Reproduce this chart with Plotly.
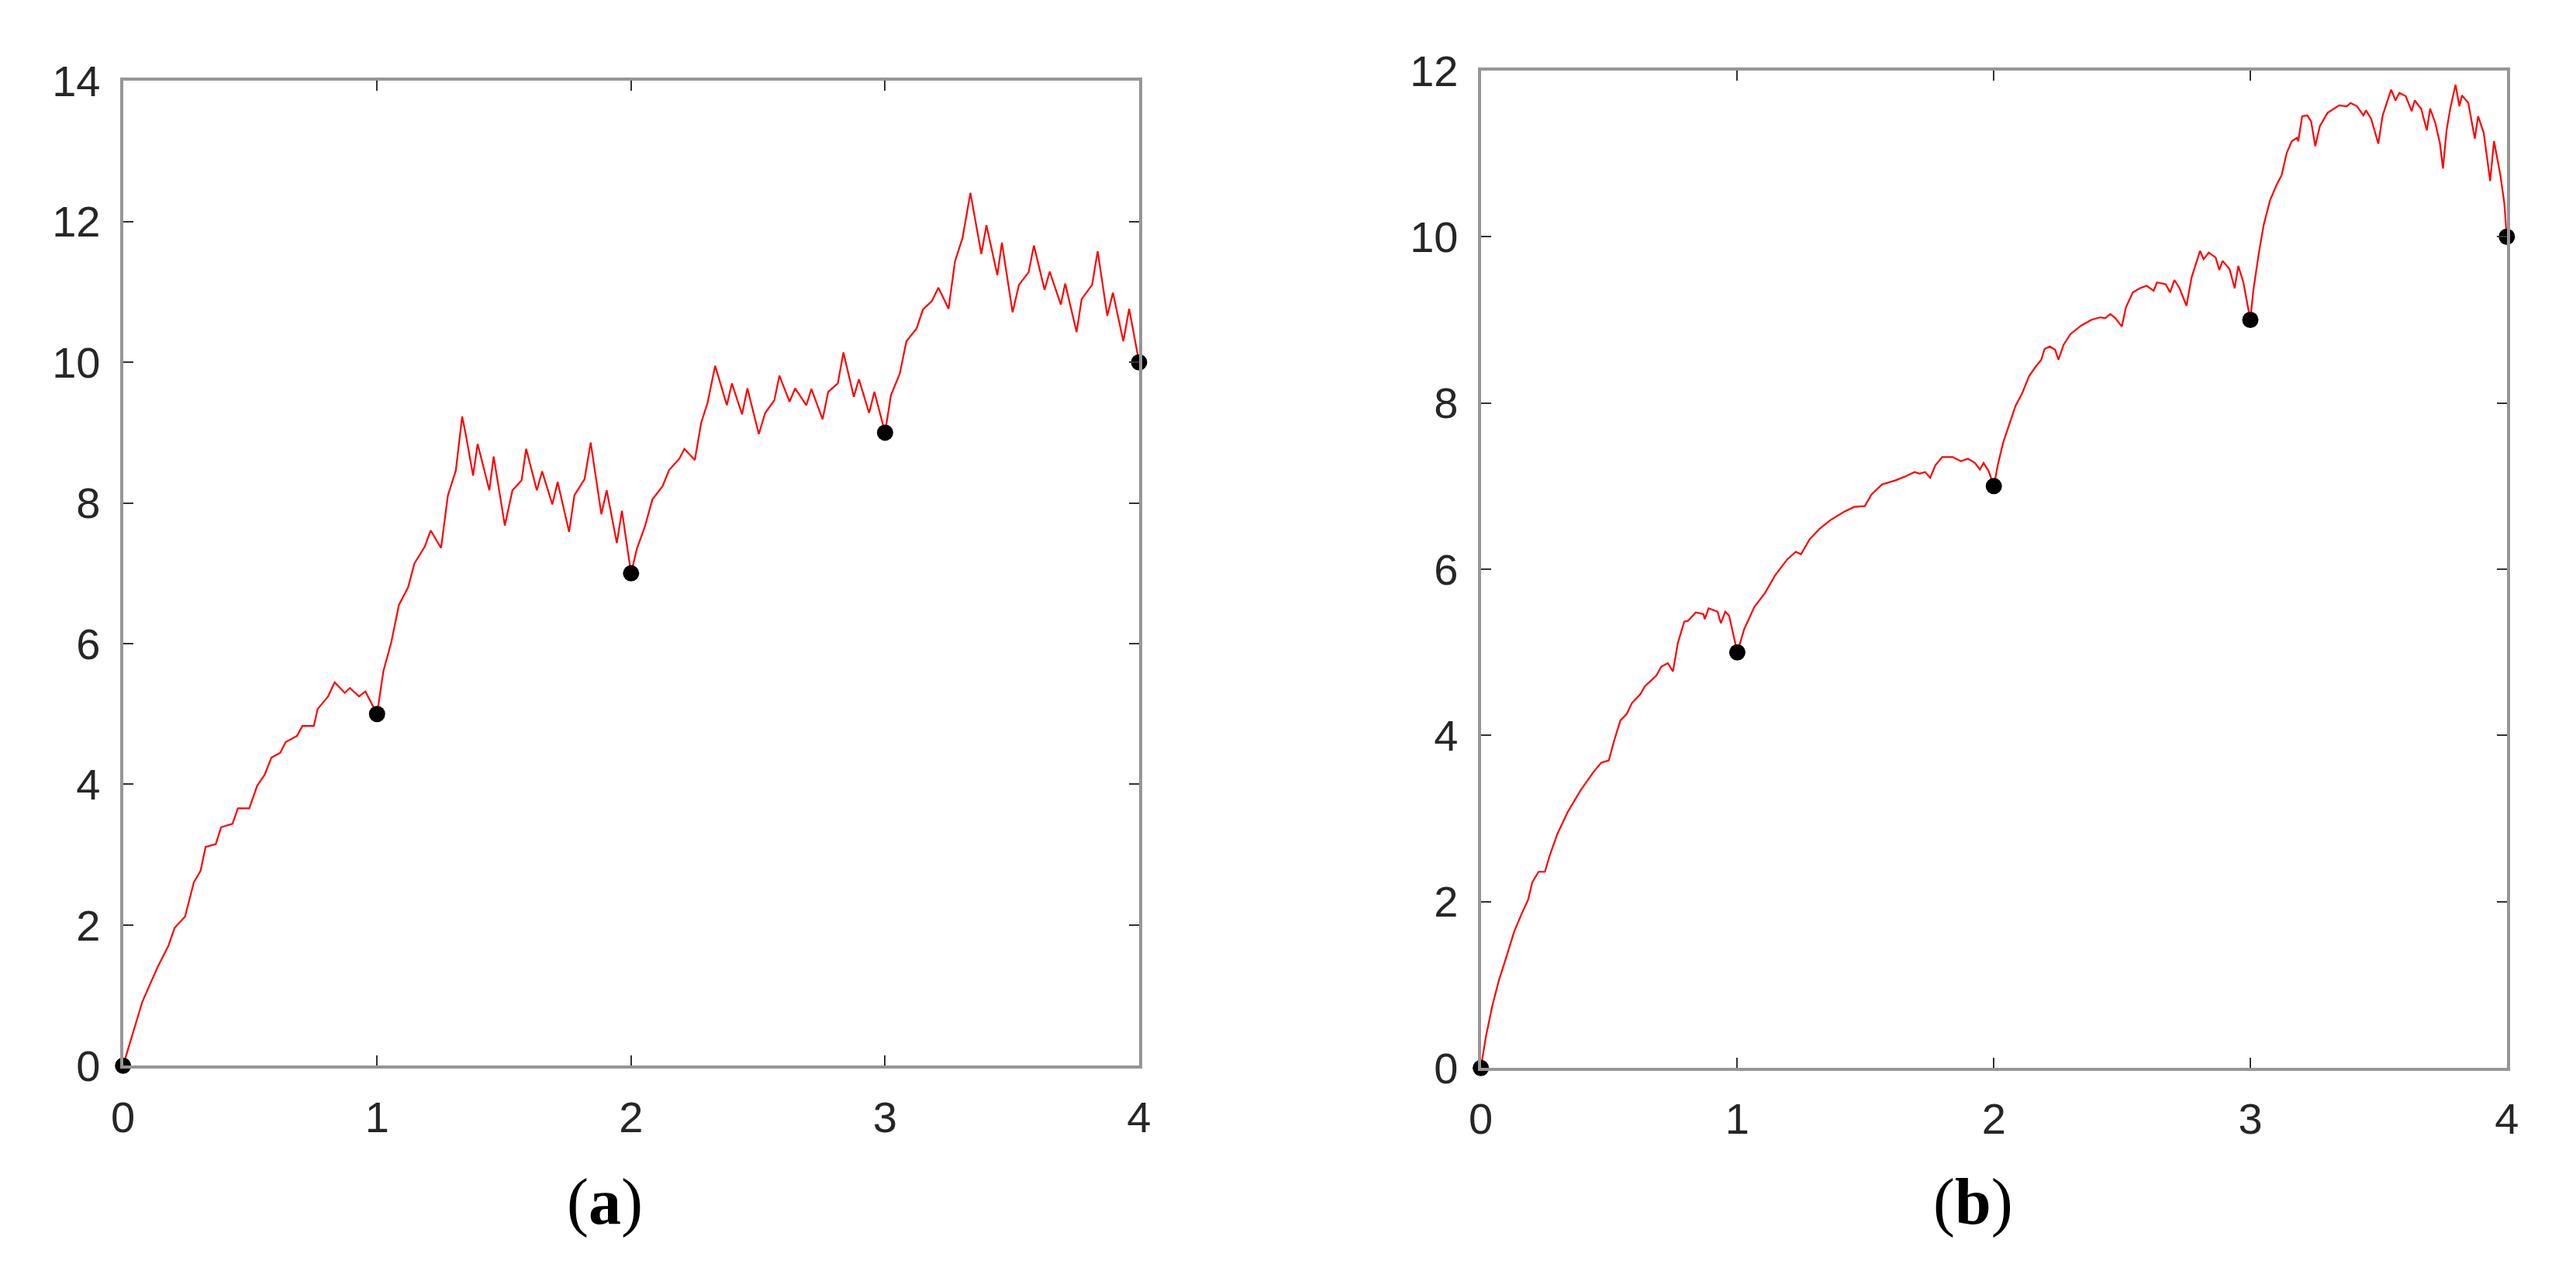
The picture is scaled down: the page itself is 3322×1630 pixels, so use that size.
"""Fractal interpolation curves through five nodes, two panels (a) and (b)."""

import plotly.graph_objects as go

# Interpolation nodes (black dots), shared by both panels
NODE_X = [0, 1, 2, 3, 4]
NODE_Y = [0, 5, 7, 9, 10]

# Panel (a): rough fractal curve
CURVE_A_X = [
    0, 0.076, 0.137, 0.178, 0.203, 0.244, 0.279, 0.305, 0.325, 0.365,
    0.386, 0.431, 0.452, 0.497, 0.528, 0.558, 0.584, 0.619, 0.640, 0.685,
    0.706, 0.751, 0.766, 0.807, 0.833, 0.873, 0.893, 0.929, 0.954, 1.0,
    1.025, 1.056, 1.086, 1.122, 1.147, 1.188, 1.211, 1.252, 1.279, 1.310,
    1.335, 1.350, 1.378, 1.396, 1.442, 1.459, 1.503, 1.533, 1.569, 1.587,
    1.629, 1.650, 1.690, 1.711, 1.756, 1.777, 1.817, 1.841, 1.883, 1.904,
    1.944, 1.964, 2.0,
    2.023, 2.054, 2.084, 2.124, 2.150, 2.190, 2.210, 2.251, 2.276, 2.301,
    2.331, 2.346, 2.377, 2.397, 2.437, 2.458, 2.503, 2.528, 2.564, 2.584,
    2.624, 2.646, 2.690, 2.710, 2.754, 2.776, 2.814, 2.836, 2.877, 2.897,
    2.937, 2.958, 3.0,
    3.023, 3.058, 3.084, 3.124, 3.149, 3.184, 3.210, 3.250, 3.275, 3.305,
    3.336, 3.351, 3.379, 3.399, 3.442, 3.460, 3.502, 3.527, 3.565, 3.586,
    3.628, 3.648, 3.692, 3.709, 3.754, 3.774, 3.815, 3.837, 3.875, 3.897,
    3.938, 3.961, 4.0,
]
CURVE_A_Y = [
    0, 0.91, 1.41, 1.70, 1.96, 2.12, 2.61, 2.77, 3.11, 3.15,
    3.39, 3.44, 3.66, 3.66, 3.98, 4.14, 4.38, 4.45, 4.60, 4.69,
    4.83, 4.83, 5.07, 5.25, 5.45, 5.30, 5.37, 5.25, 5.32, 5.0,
    5.61, 6.02, 6.55, 6.80, 7.14, 7.38, 7.61, 7.36, 8.11, 8.46,
    9.23, 8.96, 8.39, 8.84, 8.18, 8.66, 7.68, 8.18, 8.32, 8.77,
    8.18, 8.45, 7.98, 8.30, 7.59, 8.11, 8.34, 8.86, 7.84, 8.18,
    7.43, 7.89, 7.0,
    7.35, 7.66, 8.05, 8.24, 8.47, 8.63, 8.77, 8.61, 9.14, 9.42,
    9.95, 9.77, 9.39, 9.70, 9.26, 9.63, 8.98, 9.28, 9.46, 9.81,
    9.44, 9.63, 9.39, 9.62, 9.19, 9.58, 9.70, 10.14, 9.51, 9.76,
    9.28, 9.58, 9.0,
    9.53, 9.84, 10.30, 10.48, 10.75, 10.87, 11.06, 10.76, 11.43, 11.77,
    12.41, 12.11, 11.54, 11.95, 11.24, 11.70, 10.71, 11.10, 11.28, 11.66,
    11.03, 11.29, 10.82, 11.12, 10.43, 10.90, 11.10, 11.58, 10.66, 10.99,
    10.30, 10.76, 10.0,
]

# Panel (b): smoother fractal curve
CURVE_B_X = [
    0, 0.020, 0.045, 0.070, 0.100, 0.130, 0.160, 0.185, 0.200, 0.225,
    0.250, 0.269, 0.299, 0.339, 0.389, 0.439, 0.469, 0.499, 0.519, 0.544,
    0.569, 0.589, 0.623, 0.639, 0.684, 0.704, 0.729, 0.749, 0.768, 0.793,
    0.808, 0.838, 0.868, 0.873, 0.888, 0.923, 0.936, 0.953, 0.968, 1.0,
    1.027, 1.067, 1.107, 1.148, 1.195, 1.228, 1.248, 1.282, 1.322, 1.362,
    1.416, 1.456, 1.497, 1.523, 1.564, 1.617, 1.658, 1.691, 1.711, 1.732,
    1.752, 1.772, 1.799, 1.839, 1.872, 1.899, 1.926, 1.946, 1.960, 1.980,
    2.0,
    2.016, 2.036, 2.057, 2.084, 2.111, 2.137, 2.164, 2.185, 2.198, 2.218,
    2.239, 2.252, 2.272, 2.299, 2.340, 2.380, 2.414, 2.434, 2.454, 2.474,
    2.499, 2.515, 2.542, 2.569, 2.596, 2.623, 2.636, 2.670, 2.687, 2.704,
    2.724, 2.751, 2.771, 2.804, 2.818, 2.838, 2.865, 2.879, 2.892, 2.919,
    2.939, 2.953, 2.973, 3.0,
    3.012, 3.032, 3.052, 3.077, 3.102, 3.122, 3.142, 3.162, 3.182, 3.187,
    3.202, 3.222, 3.237, 3.253, 3.271, 3.301, 3.346, 3.376, 3.391, 3.416,
    3.441, 3.451, 3.471, 3.499, 3.516, 3.531, 3.549, 3.566, 3.581, 3.606,
    3.629, 3.641, 3.666, 3.688, 3.701, 3.721, 3.739, 3.751, 3.765, 3.780,
    3.800, 3.815, 3.825, 3.850, 3.875, 3.888, 3.910, 3.935, 3.950, 3.975,
    3.990, 4.0,
]
CURVE_B_Y = [
    0, 0.38, 0.75, 1.05, 1.34, 1.64, 1.86, 2.03, 2.23, 2.36,
    2.36, 2.56, 2.82, 3.08, 3.34, 3.56, 3.67, 3.70, 3.93, 4.18,
    4.26, 4.39, 4.50, 4.59, 4.72, 4.83, 4.87, 4.77, 5.11, 5.37,
    5.38, 5.48, 5.46, 5.40, 5.53, 5.49, 5.35, 5.49, 5.44, 5.0,
    5.28, 5.55, 5.71, 5.93, 6.12, 6.21, 6.18, 6.36, 6.49, 6.59,
    6.69, 6.75, 6.76, 6.90, 7.02, 7.07, 7.12, 7.17, 7.15, 7.17,
    7.10, 7.25, 7.35, 7.35, 7.30, 7.33, 7.28, 7.20, 7.28, 7.18,
    7.0,
    7.26, 7.52, 7.72, 7.96, 8.12, 8.32, 8.44, 8.52, 8.65, 8.68,
    8.64, 8.52, 8.70, 8.83, 8.93, 9.00, 9.03, 9.02, 9.07, 9.02,
    8.92, 9.15, 9.33, 9.38, 9.41, 9.35, 9.45, 9.43, 9.33, 9.48,
    9.38, 9.17, 9.51, 9.83, 9.73, 9.81, 9.75, 9.60, 9.71, 9.61,
    9.38, 9.65, 9.45, 9.0,
    9.36, 9.78, 10.14, 10.44, 10.62, 10.74, 11.01, 11.15, 11.19, 11.15,
    11.45, 11.46, 11.39, 11.09, 11.33, 11.49, 11.58, 11.57, 11.61, 11.57,
    11.46, 11.52, 11.42, 11.12, 11.46, 11.61, 11.77, 11.64, 11.73, 11.69,
    11.51, 11.64, 11.54, 11.28, 11.54, 11.37, 11.13, 10.82, 11.28, 11.55,
    11.83, 11.57, 11.70, 11.61, 11.18, 11.45, 11.25, 10.67, 11.15, 10.74,
    10.41, 10.0,
]

X_TICKS = [0, 1, 2, 3, 4]
Y_TICKS_A = [0, 2, 4, 6, 8, 10, 12, 14]
Y_TICKS_B = [0, 2, 4, 6, 8, 10, 12]

W, H = 3322, 1630
TICK_FONT = dict(family="Liberation Sans, Arial, sans-serif", size=56, color="#262626")


def axis_style(tickvals, rng):
    """MATLAB-like boxed axis: grey frame, short inward ticks."""
    return dict(
        range=rng,
        tickvals=tickvals,
        ticktext=[str(v) for v in tickvals],
        showgrid=False,
        zeroline=False,
        showline=True,
        linecolor="#969696",
        linewidth=4,
        mirror="ticks",
        ticks="inside",
        ticklen=13,
        tickwidth=2,
        tickcolor="#333333",
        tickfont=TICK_FONT,
    )


fig = go.Figure()

for xs, ys, xref, yref in [
    (CURVE_A_X, CURVE_A_Y, "x", "y"),
    (CURVE_B_X, CURVE_B_Y, "x2", "y2"),
]:
    fig.add_trace(
        go.Scatter(
            x=xs, y=ys, mode="lines", xaxis=xref, yaxis=yref,
            line=dict(color="#ff0000", width=2.2),
            showlegend=False, cliponaxis=False,
        )
    )
    fig.add_trace(
        go.Scatter(
            x=NODE_X, y=NODE_Y, mode="markers", xaxis=xref, yaxis=yref,
            marker=dict(color="#000000", size=21),
            showlegend=False, cliponaxis=False,
        )
    )

xa = axis_style(X_TICKS, [0, 4])
xa.update(domain=[136 / W, 1459 / W], anchor="y", ticklabelstandoff=14)
xb = axis_style(X_TICKS, [0, 4])
xb.update(domain=[1904 / W, 3240 / W], anchor="y2", ticklabelstandoff=14)
ya = axis_style(Y_TICKS_A, [0, 14])
ya.update(domain=[1 - 1389 / H, 1 - 68 / H], anchor="x", ticklabelstandoff=14)
yb = axis_style(Y_TICKS_B, [0, 12])
yb.update(domain=[1 - 1392 / H, 1 - 54 / H], anchor="x2", ticklabelstandoff=14)

label_font = dict(family="Liberation Serif, Times New Roman, serif", size=84, color="#000000")
fig.update_layout(
    width=W,
    height=H,
    margin=dict(l=0, r=0, t=0, b=0),
    paper_bgcolor="white",
    plot_bgcolor="white",
    xaxis=xa,
    yaxis=ya,
    xaxis2=xb,
    yaxis2=yb,
    annotations=[
        dict(text="(<b>a</b>)", x=763 / W, y=1 - 1572 / H, xref="paper", yref="paper",
             showarrow=False, font=label_font, xanchor="center", yanchor="middle"),
        dict(text="(<b>b</b>)", x=2545 / W, y=1 - 1572 / H, xref="paper", yref="paper",
             showarrow=False, font=label_font, xanchor="center", yanchor="middle"),
    ],
)

fig.write_html("out.html")
